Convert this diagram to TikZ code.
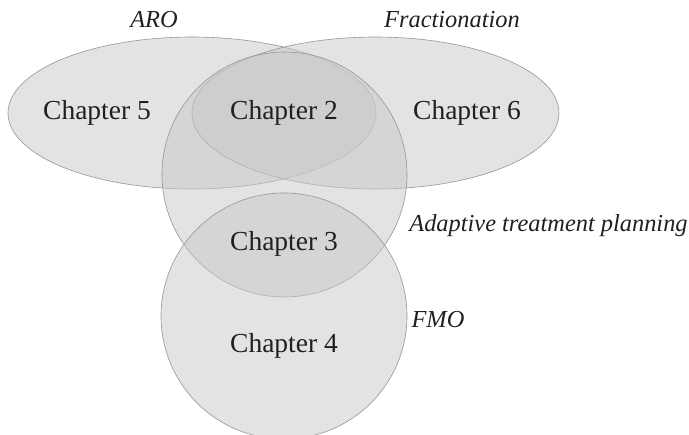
\documentclass[tikz,border=0pt]{standalone}
\usepackage{fontspec}
\setmainfont{Liberation Serif}
\usetikzlibrary{shapes.geometric}
\definecolor{setfill}{RGB}{199,200,203}
\definecolor{setline}{RGB}{150,150,152}
\definecolor{txt}{RGB}{35,31,32}
\tikzset{
  setshape/.style={draw=setline, line width=0.6pt, fill=setfill, fill opacity=0.5, inner sep=0pt},
  chap/.style={text=txt, font=\fontsize{27.5}{30}\selectfont, inner sep=0pt},
  lab/.style={text=txt, font=\fontsize{24.4}{27}\selectfont\itshape, inner sep=0pt}
}
\begin{document}
\begin{tikzpicture}[x=1pt,y=-1pt]
\useasboundingbox (0,0) rectangle (689,435);
\fill[white] (0,0) rectangle (689,435);
\begin{scope}
\clip (0,0) rectangle (689,435);
\node[setshape, ellipse, minimum width=368pt, minimum height=152pt] (aro) at (192,113) {};
\node[setshape, ellipse, minimum width=367pt, minimum height=152pt] (frac) at (375.5,113) {};
\node[setshape, circle, minimum size=245pt] (adapt) at (284.5,174.5) {};
\node[setshape, circle, minimum size=246pt] (fmo) at (284,316) {};
\end{scope}
\node[lab] (laro) at (154,20) {ARO};
\node[lab] (lfrac) at (452,20) {Fractionation};
\node[lab] (ladapt) at (548.5,226) {Adaptive treatment planning};
\node[lab] (lfmo) at (438,320) {FMO};
\node[chap] (c5) at (97,113) {Chapter 5};
\node[chap] (c2) at (284,113) {Chapter 2};
\node[chap] (c6) at (467,113) {Chapter 6};
\node[chap] (c3) at (284,244) {Chapter 3};
\node[chap] (c4) at (284,346) {Chapter 4};
\end{tikzpicture}
\end{document}
